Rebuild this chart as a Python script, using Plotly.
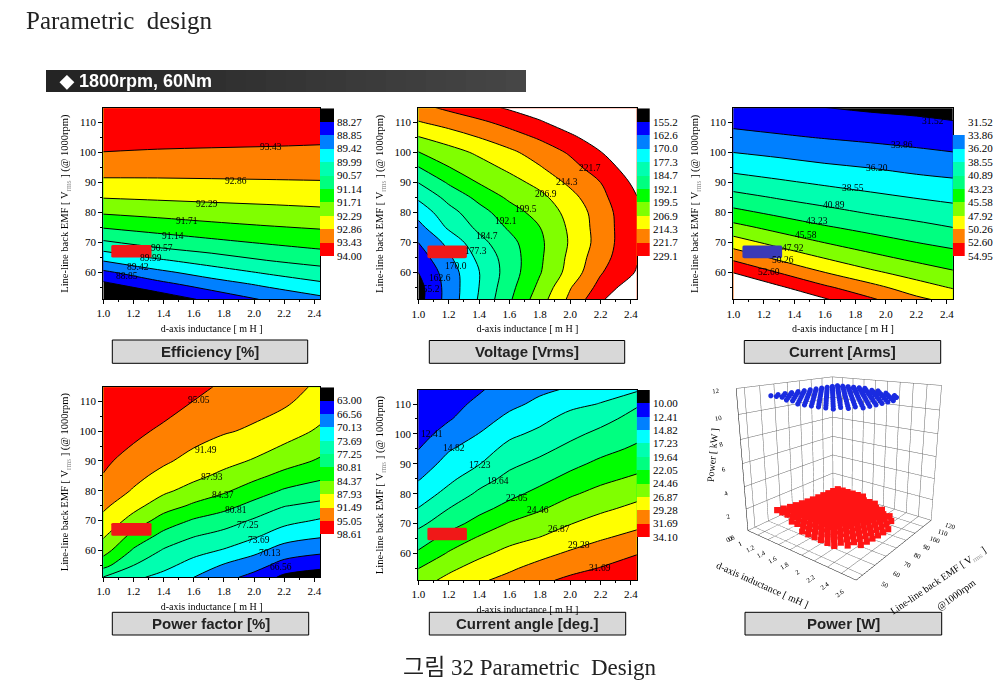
import plotly.graph_objects as go

W, H = 1008, 690
SERIF = "Liberation Serif, Noto Serif, serif"
SANS = "Liberation Sans, Arial, sans-serif"

# ---------- band colours (low to high), last one is "above the top level" ----------
BAND_COLORS = ["#000000", "#0000ff", "#0080ff", "#00ffff", "#00ffb0", "#00ff80",
               "#00ff00", "#80ff00", "#ffff00", "#ff8000", "#ff0000", "#ffffff"]

X_TICKS = [1.0, 1.2, 1.4, 1.6, 1.8, 2.0, 2.2, 2.4]
Y_TICKS = [60, 70, 80, 90, 100, 110]

# ---------- Efficiency ----------
EFF_LEVELS = [88.27, 88.85, 89.42, 89.99, 90.57, 91.14, 91.71, 92.29, 92.86, 93.43, 94.00]
EFF_X = [1.0, 1.36, 1.72, 2.08, 2.44]
EFF_Y = [51, 56, 60, 64, 68, 72, 76, 80, 85, 90, 95, 100, 105, 115]
EFF_Z = [
    [87.40, 87.90, 88.42, 88.91, 89.27],
    [88.14, 88.65, 89.13, 89.52, 89.88],
    [88.73, 89.27, 89.70, 90.06, 90.34],
    [89.46, 89.91, 90.26, 90.56, 90.77],
    [90.16, 90.53, 90.77, 91.00, 91.16],
    [90.78, 91.02, 91.22, 91.37, 91.51],
    [91.30, 91.47, 91.63, 91.75, 91.84],
    [91.78, 91.90, 92.00, 92.08, 92.16],
    [92.31, 92.37, 92.42, 92.46, 92.50],
    [92.75, 92.76, 92.78, 92.80, 92.82],
    [93.09, 93.08, 93.08, 93.08, 93.08],
    [93.42, 93.38, 93.35, 93.33, 93.30],
    [93.60, 93.60, 93.60, 93.58, 93.55],
    [93.90, 93.90, 93.90, 93.90, 93.90],
]
EFF_LABELS = [(2.113, 101.8, "93.43"), (1.878, 90.6, "92.86"), (1.69, 82.8, "92.29"),
              (1.553, 77.1, "91.71"), (1.46, 72.1, "91.14"), (1.387, 68.0, "90.57"),
              (1.316, 64.7, "89.99"), (1.228, 61.7, "89.42"), (1.159, 58.8, "88.85")]

# ---------- Voltage ----------
VOLT_LEVELS = [155.2, 162.6, 170.0, 177.3, 184.7, 192.1, 199.5, 206.9, 214.3, 221.7, 229.1]
VOLT_X = [1.0, 1.2, 1.4, 1.6, 1.8, 2.0, 2.2, 2.3, 2.44]
VOLT_Y = [51, 55, 60, 65, 70, 75, 80, 85, 90, 95, 100, 105, 110, 115]
VOLT_Z = [
    [152.5, 165.6, 178.1, 191.1, 203.7, 216.0, 227.5, 233.5, 241.0],
    [152.5, 165.6, 177.4, 189.8, 201.4, 213.9, 224.1, 228.6, 235.0],
    [155.2, 166.2, 177.1, 188.3, 199.0, 209.8, 221.1, 224.9, 229.7],
    [158.8, 168.8, 179.1, 188.3, 198.3, 208.7, 219.0, 222.9, 228.5],
    [162.6, 172.0, 182.4, 189.8, 198.1, 207.7, 217.4, 222.1, 228.0],
    [167.4, 178.5, 186.4, 193.1, 199.4, 208.2, 217.6, 222.1, 228.2],
    [172.7, 182.1, 189.4, 196.2, 202.4, 209.1, 218.0, 222.4, 228.5],
    [178.5, 187.0, 194.1, 200.9, 204.9, 211.9, 219.8, 223.7, 228.9],
    [184.9, 193.0, 200.0, 204.1, 209.2, 215.8, 221.7, 225.7, 231.0],
    [191.8, 199.3, 203.8, 208.6, 213.8, 219.2, 225.4, 228.8, 233.5],
    [199.2, 203.8, 208.3, 212.8, 217.5, 222.6, 228.8, 232.0, 236.0],
    [206.5, 210.5, 214.4, 218.4, 222.6, 227.6, 233.0, 237.0, 242.0],
    [213.8, 217.0, 220.2, 224.0, 228.2, 233.0, 239.0, 243.0, 248.0],
    [219.8, 223.3, 226.8, 230.2, 233.7, 237.2, 241.0, 244.0, 249.0],
]
VOLT_LABELS = [(2.129, 94.7, "221.7"), (1.976, 90.3, "214.3"), (1.841, 86.2, "206.9"),
               (1.71, 81.2, "199.5"), (1.579, 77.3, "192.1"), (1.452, 72.3, "184.7"),
               (1.378, 67.3, "177.3"), (1.247, 62.3, "170.0"), (1.142, 58.3, "162.6"),
               (1.07, 54.6, "155.2")]

# ---------- Current ----------
CURR_LEVELS = [31.52, 33.86, 36.20, 38.55, 40.89, 43.23, 45.58, 47.92, 50.26, 52.60, 54.95]
CURR_X = [1.0, 1.3, 1.6, 1.9, 2.2, 2.44]
CURR_Y = [51, 55, 60, 65, 70, 75, 80, 85, 90, 95, 100, 105, 110, 115]
CURR_Z = [
    [60.05, 57.60, 55.20, 52.95, 50.80, 49.50],
    [57.75, 55.35, 53.04, 51.05, 49.00, 47.76],
    [54.90, 52.54, 50.30, 48.40, 46.90, 45.85],
    [52.00, 49.72, 47.78, 46.20, 44.95, 44.20],
    [49.06, 47.10, 45.54, 44.30, 43.25, 42.55],
    [46.36, 44.80, 43.50, 42.50, 41.60, 40.90],
    [43.90, 42.67, 41.63, 40.70, 39.95, 39.45],
    [41.73, 40.70, 39.85, 39.10, 38.46, 38.00],
    [39.60, 38.90, 38.20, 37.60, 37.00, 36.60],
    [37.90, 37.25, 36.60, 36.15, 35.55, 35.25],
    [36.20, 35.66, 35.16, 34.70, 34.25, 33.90],
    [34.66, 34.16, 33.75, 33.40, 33.05, 32.80],
    [33.30, 32.94, 32.60, 32.20, 31.90, 31.65],
    [32.20, 31.86, 31.52, 31.20, 31.00, 30.60],
]
CURR_LABELS = [(2.31, 110.6, "31.52"), (2.103, 102.5, "33.86"), (1.945, 94.9, "36.20"),
               (1.786, 88.2, "38.55"), (1.659, 82.6, "40.89"), (1.55, 77.2, "43.23"),
               (1.474, 72.6, "45.58"), (1.393, 68.2, "47.92"), (1.323, 64.2, "50.26"),
               (1.234, 60.3, "52.60")]

# ---------- Power factor ----------
PF_LEVELS = [63.00, 66.56, 70.13, 73.69, 77.25, 80.81, 84.37, 87.93, 91.49, 95.05, 98.61]
PF_X = [1.0, 1.2, 1.4, 1.6, 1.8, 2.0, 2.2, 2.44]
PF_Y = [51, 55, 60, 65, 70, 75, 80, 85, 90, 100, 110, 115]
PF_Z = [
    [77.10, 74.40, 72.60, 70.13, 67.70, 65.40, 62.20, 61.00],
    [82.00, 77.25, 74.70, 72.30, 69.80, 68.00, 65.20, 64.00],
    [85.84, 80.38, 76.90, 74.90, 73.40, 71.10, 68.60, 67.40],
    [88.44, 83.33, 79.80, 77.50, 76.10, 74.30, 71.80, 70.60],
    [90.47, 86.59, 82.80, 80.40, 78.90, 76.80, 74.80, 73.30],
    [92.18, 89.10, 86.00, 83.80, 82.00, 79.70, 77.40, 76.30],
    [93.54, 91.20, 88.60, 86.60, 84.90, 82.60, 80.40, 79.20],
    [94.90, 92.43, 90.50, 88.80, 87.10, 85.30, 83.30, 81.50],
    [95.70, 93.71, 92.00, 90.40, 89.00, 87.60, 85.90, 83.90],
    [97.00, 96.00, 94.30, 92.90, 91.80, 91.00, 89.47, 87.40],
    [98.00, 97.60, 96.80, 95.00, 93.70, 92.80, 92.10, 89.80],
    [98.40, 98.20, 97.60, 95.90, 94.60, 93.60, 92.90, 90.83],
]
PF_LABELS = [(1.635, 110.3, "95.05"), (1.681, 93.6, "91.49"), (1.719, 84.7, "87.93"),
             (1.792, 78.7, "84.37"), (1.878, 73.5, "80.81"), (1.962, 68.5, "77.25"),
             (2.033, 63.5, "73.69"), (2.106, 59.0, "70.13"), (2.177, 54.3, "66.56")]

# ---------- Current angle ----------
ANG_LEVELS = [10.00, 12.41, 14.82, 17.23, 19.64, 22.05, 24.46, 26.87, 29.28, 31.69, 34.10]
ANG_X = [1.0, 1.2, 1.4, 1.6, 1.8, 2.0, 2.2, 2.44]
ANG_Y = [51, 55, 60, 65, 70, 75, 80, 85, 90, 95, 100, 105, 110, 115]
ANG_Z = [
    [25.87, 27.50, 28.96, 29.95, 31.20, 32.20, 33.00, 33.90],
    [24.42, 26.38, 27.80, 28.95, 30.05, 31.00, 31.80, 33.00],
    [22.44, 24.69, 26.32, 27.58, 28.60, 29.60, 30.50, 31.56],
    [20.72, 22.99, 24.77, 26.15, 27.00, 28.15, 29.10, 30.07],
    [19.06, 21.05, 22.93, 24.63, 25.60, 26.78, 27.77, 28.71],
    [17.31, 19.64, 21.34, 22.85, 24.20, 25.47, 26.44, 27.44],
    [15.93, 17.97, 20.07, 21.42, 22.70, 24.14, 25.17, 26.20],
    [14.64, 16.68, 18.64, 20.30, 21.40, 22.73, 23.90, 24.87],
    [13.47, 15.65, 17.13, 19.13, 20.20, 21.41, 22.58, 23.60],
    [12.33, 14.60, 16.00, 18.00, 19.00, 20.23, 21.30, 22.45],
    [11.40, 13.40, 14.87, 16.70, 17.80, 19.06, 20.20, 21.40],
    [10.90, 12.20, 13.90, 15.36, 16.60, 18.07, 18.90, 20.49],
    [10.45, 11.50, 12.99, 14.30, 15.30, 16.60, 17.33, 19.38],
    [10.10, 10.80, 12.10, 13.60, 14.40, 15.00, 16.20, 16.80],
]
ANG_LABELS = [(1.092, 100.1, "12.41"), (1.236, 95.4, "14.82"), (1.404, 89.6, "17.23"),
              (1.524, 84.2, "19.64"), (1.648, 78.4, "22.05"), (1.786, 74.5, "24.46"),
              (1.928, 68.1, "26.87"), (2.059, 62.7, "29.28"), (2.197, 55.1, "31.69")]

# ---------- Power (3D) ----------
P_L = [1.0, 1.1, 1.2, 1.3, 1.4, 1.5, 1.6, 1.7, 1.8, 1.9, 2.0, 2.1, 2.2, 2.3, 2.4]
P_EMF = [50, 55, 60, 65, 70, 75, 80, 85, 90, 95, 100, 105, 110, 115]
N = None
P_LOSS = [
    [N, N, N, N, N, N, N, 1.49, 1.46, 1.43, 1.41, 1.39, 1.37, N, N],
    [N, N, N, N, 1.44, 1.42, 1.40, 1.38, 1.36, 1.34, 1.32, 1.31, 1.29, 1.28, N],
    [1.44, 1.41, 1.39, 1.37, 1.35, 1.33, 1.31, 1.30, 1.28, 1.26, 1.25, 1.24, 1.23, 1.22, 1.21],
    [1.31, 1.30, 1.28, 1.26, 1.24, 1.23, 1.21, 1.19, 1.18, 1.17, 1.16, 1.15, 1.15, 1.14, 1.14],
    [1.19, 1.18, 1.16, 1.15, 1.14, 1.13, 1.12, 1.11, 1.10, 1.09, 1.09, 1.08, 1.08, 1.07, 1.07],
    [1.09, 1.08, 1.07, 1.07, 1.06, 1.05, 1.05, 1.04, 1.03, 1.03, 1.02, 1.02, 1.01, 1.01, 1.01],
    [1.01, 1.00, 1.00, 0.99, 0.99, 0.98, 0.98, 0.97, 0.97, 0.97, 0.96, 0.96, 0.96, 0.96, 0.96],
    [0.94, 0.94, 0.94, 0.93, 0.93, 0.93, 0.93, 0.93, 0.92, 0.92, 0.92, 0.92, 0.92, 0.92, 0.92],
    [0.88, 0.88, 0.88, 0.88, 0.88, 0.88, 0.88, 0.88, 0.88, 0.88, 0.88, 0.88, 0.88, 0.88, N],
    [0.85, 0.85, 0.85, 0.85, 0.85, 0.85, 0.85, 0.85, 0.85, 0.85, 0.85, 0.85, 0.85, 0.85, N],
    [0.82, 0.82, 0.82, 0.82, 0.82, 0.82, 0.82, 0.82, 0.82, 0.82, 0.82, 0.82, 0.82, N, N],
    [0.79, 0.79, 0.79, 0.79, 0.79, 0.79, 0.79, 0.79, 0.79, 0.79, 0.79, N, N, N, N],
    [0.77, 0.77, 0.77, 0.77, 0.77, 0.77, 0.77, 0.77, 0.77, N, N, N, N, N, N],
    [0.74, 0.74, 0.74, 0.74, 0.74, 0.74, N, N, N, N, N, N, N, N, N],
]
P_OUT_KW = 11.31

# ---------- Texts ----------
PAGE_TITLE = "Parametric  design"
BAR_TEXT = "◆ 1800rpm, 60Nm"
CAPTION = "그림 32 Parametric  Design"
X_TITLE = "d-axis inductance [ m H ]"
Y_TITLE = 'Line-line back EMF [ V<sub><span style="color:#999999">rms</span></sub> ] (@ 1000rpm)'


def px(v):
    return v / W


def py(v):
    return 1 - v / H


PANELS = [
    dict(x=EFF_X, y=EFF_Y, z=EFF_Z, lv=EFF_LEVELS, lab=EFF_LABELS, box=(103.3, 320, 108.3, 299), bar=(320, 334, 108.3, 256),
         title="Efficiency [%]", cap=(112.3, 307.7, 340, 363.3), mark=(1.053, 1.32, 64.9, 69.1), mc="#f01818", hide=0),
    dict(x=VOLT_X, y=VOLT_Y, z=VOLT_Z, lv=VOLT_LEVELS, lab=VOLT_LABELS, box=(418.3, 636.7, 108.3, 299.3), bar=(636.7, 650, 108.3, 256),
         title="Voltage [Vrms]", cap=(429.3, 624.7, 340.5, 363.3), mark=(1.06, 1.32, 64.8, 69.0), mc="#f01818", hide=0),
    dict(x=CURR_X, y=CURR_Y, z=CURR_Z, lv=CURR_LEVELS, lab=CURR_LABELS, box=(733.3, 952.7, 108.3, 299.3), bar=(952.7, 965, 108.3, 256),
         title="Current [Arms]", cap=(744.3, 940.7, 340.5, 363.3), mark=(1.06, 1.32, 64.8, 69.0), mc="#3a3ab8", hide=2),
    dict(x=PF_X, y=PF_Y, z=PF_Z, lv=PF_LEVELS, lab=PF_LABELS, box=(103.3, 320, 387.3, 577), bar=(320, 334, 387.3, 534),
         title="Power factor [%]", cap=(112.3, 308.7, 612.3, 635), mark=(1.053, 1.32, 64.9, 69.2), mc="#f01818", hide=0),
    dict(x=ANG_X, y=ANG_Y, z=ANG_Z, lv=ANG_LEVELS, lab=ANG_LABELS, box=(418.3, 636.7, 390, 580), bar=(636.7, 650, 390, 537),
         title="Current angle [deg.]", cap=(429.3, 625.7, 612.3, 635), mark=(1.06, 1.32, 64.4, 68.6), mc="#f01818", hide=0),
]

fig = go.Figure()
shapes, annotations = [], []
layout_axes = {}

contour_scale = [[i / 11, c] for i, c in enumerate(BAND_COLORS)]
bar_scale = []
for i, c in enumerate(BAND_COLORS[:11]):
    bar_scale += [[i / 11, c], [(i + 1) / 11, c]]


def rounded(x0, x1, y0, y1, rx=0.012, ry=0.45):
    return (f"M {x0 + rx},{y0} L {x1 - rx},{y0} Q {x1},{y0} {x1},{y0 + ry} L {x1},{y1 - ry} "
            f"Q {x1},{y1} {x1 - rx},{y1} L {x0 + rx},{y1} Q {x0},{y1} {x0},{y1 - ry} "
            f"L {x0},{y0 + ry} Q {x0},{y0} {x0 + rx},{y0} Z")


def page_text(x, y, text, font, xanchor="center", angle=0):
    annotations.append(dict(x=px(x), y=py(y), xref="paper", yref="paper", xanchor=xanchor, yanchor="middle",
                            text=text, showarrow=False, font=font, textangle=angle))


for k, p in enumerate(PANELS):
    ax = 2 * k + 1
    bx = 2 * k + 2
    xn, yn = f"x{ax}", f"y{ax}"
    bxn, byn = f"x{bx}", f"y{bx}"
    lv = p["lv"]
    fig.add_trace(go.Contour(
        x=p["x"], y=p["y"], z=p["z"], xaxis=xn, yaxis=yn, autocontour=False,
        contours=dict(start=lv[0], end=lv[-1], size=(lv[-1] - lv[0]) / 10, coloring="fill", showlines=True),
        line=dict(color="black", width=1, smoothing=1.0), colorscale=contour_scale, showscale=False, hoverinfo="skip"))
    hide = p["hide"]
    fig.add_trace(go.Heatmap(
        x=[0], y=[i + 0.5 for i in range(11)], z=[[None] if i < hide else [i] for i in range(11)],
        xaxis=bxn, yaxis=byn, zmin=-0.5, zmax=10.5, colorscale=bar_scale, showscale=False, hoverinfo="skip"))
    x0, x1, y0, y1 = p["box"]
    tickfont = dict(family=SERIF, size=11, color="black")
    layout_axes[f"xaxis{ax}"] = dict(
        domain=[px(x0), px(x1)], range=[1.0, 2.438], anchor=yn, tickvals=X_TICKS, ticktext=[f"{v:.1f}" for v in X_TICKS],
        ticks="outside", ticklen=4, tickcolor="black", showline=True, linecolor="black", mirror=True, showgrid=False, zeroline=False,
        tickfont=tickfont, minor=dict(dtick=0.1, ticks="outside", ticklen=2, tickcolor="black"),
        title=dict(text=X_TITLE, font=dict(family=SERIF, size=10, color="black"), standoff=6))
    layout_axes[f"yaxis{ax}"] = dict(
        domain=[py(y1), py(y0)], range=[51.1, 114.7], anchor=xn, tickvals=Y_TICKS,
        ticks="outside", ticklen=4, tickcolor="black", showline=True, linecolor="black", mirror=True, showgrid=False, zeroline=False,
        tickfont=tickfont, minor=dict(dtick=5, ticks="outside", ticklen=2, tickcolor="black"),
        title=dict(text=Y_TITLE, font=dict(family=SERIF, size=10.5, color="black"), standoff=8))
    bx0, bx1, by0, by1 = p["bar"]
    layout_axes[f"xaxis{bx}"] = dict(domain=[px(bx0), px(bx1)], anchor=byn, visible=False)
    layout_axes[f"yaxis{bx}"] = dict(
        domain=[py(by1), py(by0)], range=[11, 0], anchor=bxn, side="right", tickvals=list(range(1, 12)),
        ticktext=[("%.2f" if lv[0] < 100 else "%.1f") % v for v in lv], ticks="", showline=False, showgrid=False, zeroline=False,
        ticklabelstandoff=2, tickfont=dict(family=SERIF, size=11, color="black"))
    mx0, mx1, my0, my1 = p["mark"]
    shapes.append(dict(type="path", xref=xn, yref=yn, path=rounded(mx0, mx1, my0, my1), fillcolor=p["mc"], line=dict(width=0), layer="above"))
    for lx_, ly_, txt in p["lab"]:
        annotations.append(dict(x=lx_, y=ly_, xref=xn, yref=yn, text=txt, showarrow=False, font=dict(family=SERIF, size=9.5, color="black")))
    c0, c1, c2, c3 = p["cap"]
    shapes.append(dict(type="rect", xref="paper", yref="paper", x0=px(c0), x1=px(c1), y0=py(c3), y1=py(c2),
                       fillcolor="#d8d8d8", line=dict(color="black", width=1), layer="above"))
    page_text((c0 + c1) / 2, (c2 + c3) / 2, f"<b>{p['title']}</b>", dict(family=SANS, size=15, color="#222222"))

# 3D power panel
lx, ly, lz = [], [], []
for j, emf in enumerate(P_EMF):
    for i, l in enumerate(P_L):
        v = P_LOSS[j][i]
        if v is not None:
            lx.append(l)
            ly.append(emf)
            lz.append(v)
fig.add_trace(go.Scatter3d(x=lx, y=ly, z=[P_OUT_KW] * len(lx), mode="markers", scene="scene",
                           marker=dict(size=3, color="#1a2be0", symbol="circle", line=dict(width=0)), hoverinfo="skip"))
fig.add_trace(go.Scatter3d(x=lx, y=ly, z=lz, mode="markers", scene="scene",
                           marker=dict(size=3.2, color="#ff1414", symbol="square", line=dict(width=0)), hoverinfo="skip"))
ax3d = dict(showbackground=False, gridcolor="#666666", gridwidth=1, showline=True, linecolor="black", linewidth=1,
            zeroline=False, showspikes=False, ticks="", tickfont=dict(family=SERIF, size=9, color="black"))
fig.update_layout(scene=dict(
    domain=dict(x=[px(680), px(1004)], y=[py(620), py(300)]),
    xaxis=dict(ax3d, range=[0.8, 2.6], tickvals=[0.8, 1.0, 1.2, 1.4, 1.6, 1.8, 2.0, 2.2, 2.4, 2.6], title=dict(text="")),
    yaxis=dict(ax3d, range=[45, 120], tickvals=[50, 60, 70, 80, 90, 100, 110, 120], title=dict(text="")),
    zaxis=dict(ax3d, range=[0, 12], tickvals=[0, 2, 4, 6, 8, 10, 12], title=dict(text="")),
    aspectmode="manual", aspectratio=dict(x=1, y=1, z=1.05),
    camera=dict(eye=dict(x=1.65, y=-2.1, z=0.85), center=dict(x=0, y=0, z=0))))
title3d = dict(family=SERIF, size=10, color="black")
page_text(762, 584, "d-axis inductance [ mH ]", title3d, angle=24)
page_text(938, 581, 'Line-line back EMF [ V<sub><span style="color:#999999">rms</span></sub> ]', title3d, angle=-34)
page_text(956, 594, "@1000rpm", title3d, angle=-36)
page_text(712, 455, "Power [ kW ]", title3d, angle=-85)
c0, c1, c2, c3 = 745, 941.7, 612.3, 635
shapes.append(dict(type="rect", xref="paper", yref="paper", x0=px(c0), x1=px(c1), y0=py(c3), y1=py(c2),
                   fillcolor="#d8d8d8", line=dict(color="black", width=1), layer="above"))
page_text((c0 + c1) / 2, (c2 + c3) / 2, "<b>Power [W]</b>", dict(family=SANS, size=15, color="#222222"))

# page furniture: dark heading bar, slightly lighter to the right
BAR_STEPS = 24
for s in range(BAR_STEPS):
    g = 0x24 + (0x46 - 0x24) * s // (BAR_STEPS - 1)
    shapes.append(dict(type="rect", xref="paper", yref="paper",
                       x0=px(46 + 480 * s / BAR_STEPS), x1=px(46 + 480 * (s + 1) / BAR_STEPS), y0=py(92), y1=py(70),
                       fillcolor=f"rgb({g},{g},{g})", line=dict(width=0), layer="below"))
page_text(57, 81, f"<b>{BAR_TEXT}</b>", dict(family=SANS, size=18, color="white"), "left")
page_text(24, 20, PAGE_TITLE, dict(family=SERIF, size=25, color="#222222"), "left")
page_text(530, 667, CAPTION, dict(family="Liberation Serif, Noto Sans CJK KR", size=23, color="#222222"))

fig.update_layout(width=W, height=H, margin=dict(l=0, r=0, t=0, b=0, autoexpand=False), paper_bgcolor="white", plot_bgcolor="white",
                  showlegend=False, shapes=shapes, annotations=annotations, **layout_axes)
fig.write_html("out.html", post_script="document.body.style.margin='0';document.body.style.overflow='hidden';",
               config=dict(displayModeBar=False))
